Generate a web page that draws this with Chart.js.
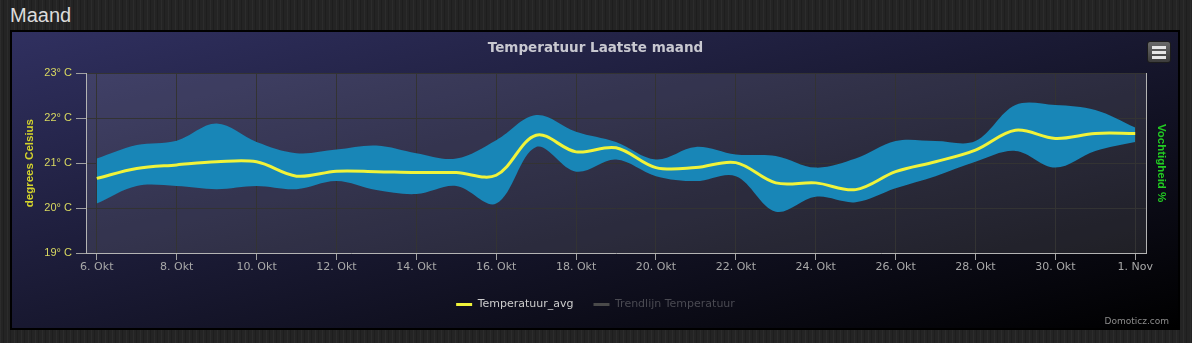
<!DOCTYPE html>
<html>
<head>
<meta charset="utf-8">
<script src="https://cdn.jsdelivr.net/npm/chart.js@4.4.1/dist/chart.umd.min.js"></script>
<style>
    body {
        margin: 0;
        width: 1192px;
        height: 343px;
        overflow: hidden;
        background-color: #242424;
        background-image: repeating-linear-gradient(90deg, rgba(255,255,255,0.035) 0 1px, transparent 1px 3px, rgba(0,0,0,0.18) 3px 4px, transparent 4px 7px);
        position: relative;
    }
    #heading {
        position: absolute;
        left: 10px;
        top: 4px;
        font: 20px "Liberation Sans", Arial, sans-serif;
        color: #dcdcdc;
    }
    #panel {
        position: absolute;
        left: 10px;
        top: 30px;
        width: 1166px;
        height: 296px;
        border: 2px solid #000;
    }
    #chart {
        display: block;
        background: linear-gradient(to bottom right, rgb(48, 48, 96), rgb(0, 0, 0));
    }
    #menu {
        position: absolute;
        left: 1135px;
        top: 9px;
        width: 22px;
        height: 20px;
        border: 1px solid #1c1c1c;
        border-radius: 3px;
        background: linear-gradient(#6a6a6a, #3c3c3c);
    }
    #menu span {
        position: absolute;
        left: 4px;
        width: 14px;
        height: 3px;
        background: #e6e6e6;
    }
    #credits {
        position: absolute;
        right: 9px;
        top: 284px;
        font: 9px "DejaVu Sans", sans-serif;
        color: #8c8c8c;
    }
</style>
</head>
<body>
<div id="heading">Maand</div>
<div id="panel">
    <canvas id="chart" width="1166" height="296"></canvas>
    <div id="menu"><span style="top:4px"></span><span style="top:9px"></span><span style="top:14px"></span></div>
    <div id="credits">Domoticz.com</div>
</div>
<script>
// days of the month shown on the x axis
const days = ['6. Okt', '7. Okt', '8. Okt', '9. Okt', '10. Okt', '11. Okt', '12. Okt', '13. Okt',
    '14. Okt', '15. Okt', '16. Okt', '17. Okt', '18. Okt', '19. Okt', '20. Okt', '21. Okt',
    '22. Okt', '23. Okt', '24. Okt', '25. Okt', '26. Okt', '27. Okt', '28. Okt', '29. Okt',
    '30. Okt', '31. Okt', '1. Nov'];

// daily temperatures (degrees Celsius)
const tempAvg = [20.66, 20.88, 20.96, 21.03, 21.03, 20.71, 20.82, 20.81, 20.79, 20.79,
    20.73, 21.62, 21.25, 21.34, 20.90, 20.90, 21.01, 20.56, 20.56, 20.41,
    20.81, 21.03, 21.29, 21.73, 21.55, 21.66, 21.66];
const tempMax = [21.10, 21.40, 21.50, 21.88, 21.47, 21.22, 21.30, 21.39, 21.22, 21.10,
    21.51, 22.07, 21.70, 21.47, 21.08, 21.36, 21.19, 21.16, 20.90, 21.10,
    21.49, 21.49, 21.49, 22.29, 22.29, 22.18, 21.79];
const tempMin = [20.10, 20.49, 20.49, 20.42, 20.49, 20.42, 20.60, 20.40, 20.31, 20.49,
    20.10, 21.36, 20.81, 21.08, 20.71, 20.60, 20.71, 19.92, 20.25, 20.13,
    20.44, 20.71, 21.03, 21.27, 20.90, 21.27, 21.47];
const yTicks = [19, 20, 21, 22, 23];

const toPoints = (values) => values.map((v, i) => ({ x: i, y: v }));

Chart.defaults.font.family = '"DejaVu Sans", sans-serif';
Chart.defaults.font.size = 11;

// light plot background like the highcharts theme
const plotBackground = {
    id: 'plotBackground',
    beforeDraw(chart) {
        const { ctx, chartArea: a } = chart;
        ctx.save();
        ctx.fillStyle = 'rgba(255, 255, 255, 0.1)';
        ctx.fillRect(a.left, a.top, a.right - a.left, a.bottom - a.top);
        ctx.restore();
    }
};

const ctx = document.getElementById('chart').getContext('2d');

new Chart(ctx, {
    type: 'line',
    data: {
        datasets: [
            {
                label: 'Temperatuur_avg',
                data: toPoints(tempAvg),
                borderColor: '#f0f33a',
                borderWidth: 3,
                pointRadius: 0,
                tension: 0.35,
                fill: false,
                order: 0
            },
            {
                label: 'Temperatuur_max',
                data: toPoints(tempMax),
                borderWidth: 0,
                pointRadius: 0,
                tension: 0.35,
                backgroundColor: '#1886b7',
                fill: '+1',
                order: 1
            },
            {
                label: 'Temperatuur_min',
                data: toPoints(tempMin),
                borderWidth: 0,
                pointRadius: 0,
                tension: 0.35,
                fill: false,
                order: 2
            },
            {
                label: 'Trendlijn Temperatuur',
                data: [],
                borderColor: '#4a4a4a',
                order: 3
            }
        ]
    },
    options: {
        responsive: false,
        animation: false,
        devicePixelRatio: 1,
        layout: {
            padding: { left: 11, right: 10, top: 0, bottom: 8 }
        },
        scales: {
            x: {
                type: 'linear',
                min: -0.27,
                max: 26.27,
                afterBuildTicks(scale) {
                    scale.ticks = days.map((d, i) => ({ value: i })).filter(t => t.value % 2 === 0);
                },
                afterFit(scale) {
                    scale.height = 26;
                },
                ticks: {
                    color: '#a8a8a8',
                    padding: 1,
                    maxRotation: 0,
                    autoSkip: false,
                    callback: (v) => days[v]
                },
                grid: {
                    color: '#333333',
                    tickColor: '#a0a0a0',
                    tickLength: 7
                },
                border: { color: '#b4b4b4' }
            },
            y: {
                position: 'left',
                min: yTicks[0],
                max: yTicks[yTicks.length - 1],
                afterBuildTicks(scale) {
                    scale.ticks = yTicks.map(v => ({ value: v }));
                },
                afterFit(scale) {
                    scale.width = 63;
                },
                ticks: {
                    color: '#d9d960',
                    padding: 4,
                    font: { family: '"Liberation Sans", Arial, sans-serif', size: 11 },
                    callback: (v) => v + '° C'
                },
                grid: {
                    color: '#333333',
                    tickColor: '#a0a0a0',
                    tickLength: 10
                },
                border: { color: '#b4b4b4' },
                title: {
                    display: true,
                    text: 'degrees Celsius',
                    color: '#d4d42c',
                    font: { family: '"Liberation Sans", Arial, sans-serif', size: 11.5, weight: 'bold' },
                    padding: 0
                }
            },
            y1: {
                position: 'right',
                min: 0,
                max: 100,
                afterFit(scale) {
                    scale.width = 22;
                },
                ticks: { display: false },
                grid: { drawOnChartArea: false, drawTicks: false },
                border: { color: '#b4b4b4' },
                title: {
                    display: true,
                    text: 'Vochtigheid %',
                    color: '#22cc22',
                    font: { family: '"Liberation Sans", Arial, sans-serif', size: 11.5, weight: 'bold' },
                    padding: 0
                }
            }
        },
        plugins: {
            title: {
                display: true,
                text: 'Temperatuur Laatste maand',
                color: '#c8c8d0',
                font: { size: 13.5, weight: 'bold' },
                padding: { top: 8, bottom: 17 }
            },
            legend: {
                position: 'bottom',
                labels: {
                    boxWidth: 16,
                    boxHeight: 3,
                    padding: 20,
                    font: { size: 11 },
                    generateLabels(chart) {
                        return [
                            { text: 'Temperatuur_avg', fillStyle: '#f0f33a', strokeStyle: '#f0f33a', lineWidth: 0, fontColor: '#cccccc', datasetIndex: 0 },
                            { text: 'Trendlijn Temperatuur', fillStyle: '#4a4a4a', strokeStyle: '#4a4a4a', lineWidth: 0, fontColor: '#4a4a52', datasetIndex: 3 }
                        ];
                    }
                }
            },
            tooltip: { enabled: false }
        }
    },
    plugins: [plotBackground]
});
</script>
</body>
</html>
